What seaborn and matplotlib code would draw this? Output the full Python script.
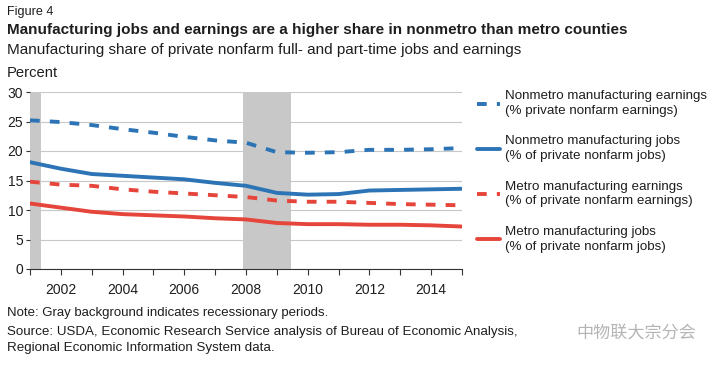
import matplotlib
matplotlib.use("Agg")
import matplotlib.pyplot as plt
import seaborn as sns
import pandas as pd
from matplotlib.lines import Line2D

# data
years = list(range(2001, 2016))
nonmetro_earnings = [25.2, 24.9, 24.4, 23.7, 23.1, 22.4, 21.8, 21.4, 19.8, 19.7, 19.8, 20.2, 20.2, 20.3, 20.5]
nonmetro_jobs = [18.1, 17.0, 16.1, 15.8, 15.5, 15.2, 14.6, 14.1, 12.9, 12.6, 12.7, 13.3, 13.4, 13.5, 13.6]
metro_earnings = [14.8, 14.3, 14.1, 13.5, 13.1, 12.8, 12.5, 12.2, 11.6, 11.4, 11.4, 11.2, 11.0, 10.9, 10.8]
metro_jobs = [11.1, 10.4, 9.7, 9.3, 9.1, 8.9, 8.6, 8.4, 7.8, 7.6, 7.6, 7.5, 7.5, 7.4, 7.2]
recessions = [(2001.0, 2001.36), (2007.9, 2009.46)]

labels = [
    "Nonmetro manufacturing earnings\n(% private nonfarm earnings)",
    "Nonmetro manufacturing jobs\n(% of private nonfarm jobs)",
    "Metro manufacturing earnings\n(% of private nonfarm earnings)",
    "Metro manufacturing jobs\n(% of private nonfarm jobs)",
]
series = [nonmetro_earnings, nonmetro_jobs, metro_earnings, metro_jobs]

blue = "#2c74b5"
red = "#e5453a"
colors = [blue, blue, red, red]
dashed = [True, False, True, False]

df = pd.concat(
    [pd.DataFrame({"year": years, "value": v, "series": lab}) for v, lab in zip(series, labels)],
    ignore_index=True,
)

sns.set_style("white")
plt.rcParams["font.family"] = ["Liberation Sans", "Noto Sans CJK SC", "DejaVu Sans"]
plt.rcParams["text.color"] = "#1e1e1e"

fig = plt.figure(figsize=(7.2, 3.65), dpi=100)
ax = fig.add_axes([30 / 720, 1 - 269 / 365, 432 / 720, 177 / 365])

for start, end in recessions:
    ax.axvspan(start, end, color="#c8c8c8", lw=0, zorder=0)

ax.set_yticks(range(0, 31, 5))
ax.yaxis.grid(True, color="#c8c8c8", lw=0.8, zorder=1)
ax.set_axisbelow(True)

for lab, col, dsh in zip(labels, colors, dashed):
    sub = df[df["series"] == lab]
    sns.lineplot(data=sub, x="year", y="value", ax=ax, color=col, lw=2.8, zorder=3)
    if dsh:
        ax.lines[-1].set_dashes((2.5, 2.6))

ax.set_xlim(2001, 2015)
ax.set_ylim(0, 30)
ax.set_xticks(range(2001, 2016))
ax.set_xticklabels(["" if y % 2 else str(y) for y in range(2001, 2016)])
ax.set_xlabel("")
ax.set_ylabel("")
for s in ["top", "right", "left"]:
    ax.spines[s].set_visible(False)
ax.spines["bottom"].set_color("#333333")
ax.spines["bottom"].set_linewidth(0.8)
ax.tick_params(axis="x", bottom=True, length=4, color="#333333", labelsize=10, pad=6, labelcolor="#1e1e1e")
ax.tick_params(axis="y", left=True, length=3, color="#333333", labelsize=10, pad=2, labelcolor="#1e1e1e")

# legend keys and labels on the right
for i, (lab, col, dsh) in enumerate(zip(labels, colors, dashed)):
    top = 95 + 45.3 * i
    mid = 1 - (top + 8.5) / 365
    key = Line2D([477 / 720, 500 / 720], [mid, mid], transform=fig.transFigure, color=col, lw=2.8)
    if dsh:
        key.set_dashes((2.5, 2.6))
    fig.add_artist(key)
    fig.text(505 / 720, mid, lab, fontsize=9.6, va="center", linespacing=1.3)

fig.text(7 / 720, 1 - 12 / 365, "Figure 4", fontsize=9.1, va="center")
fig.text(7 / 720, 1 - 30 / 365, "Manufacturing jobs and earnings are a higher share in nonmetro than metro counties",
         fontsize=11, fontweight="bold", va="center")
fig.text(7 / 720, 1 - 50 / 365, "Manufacturing share of private nonfarm full- and part-time jobs and earnings",
         fontsize=11, va="center")
fig.text(7 / 720, 1 - 73 / 365, "Percent", fontsize=10.6, va="center")
fig.text(7 / 720, 1 - 313 / 365, "Note: Gray background indicates recessionary periods.", fontsize=9.5, va="center")
fig.text(7 / 720, 1 - 332 / 365, "Source: USDA, Economic Research Service analysis of Bureau of Economic Analysis,",
         fontsize=9.6, va="center")
fig.text(7 / 720, 1 - 348 / 365, "Regional Economic Information System data.", fontsize=9.6, va="center")
fig.text(576 / 720, 1 - 333 / 365, "中物联大宗分会", fontsize=12.3, va="center", color="#b4b4b4",
         family=["Noto Sans CJK SC", "DejaVu Sans"])

fig.savefig("out.png", dpi=100)
